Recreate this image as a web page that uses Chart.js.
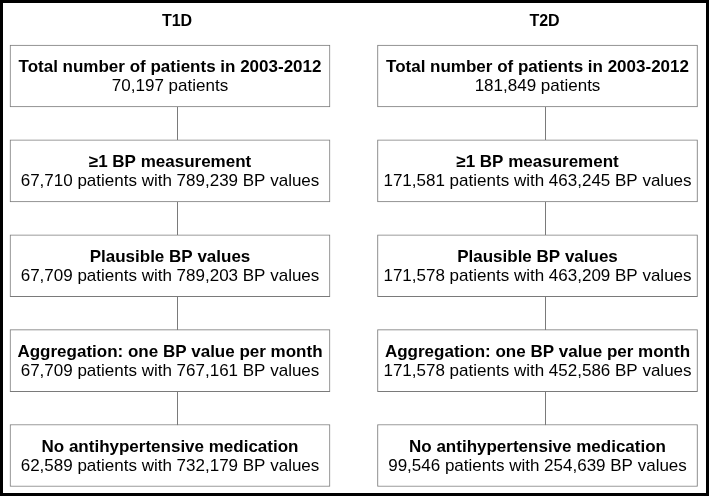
<!DOCTYPE html>
<html lang="en">
<head>
    <meta charset="UTF-8">
    <title>T1D / T2D patient flow</title>
    <script src="https://cdn.jsdelivr.net/npm/chart.js"></script>
    <style>
        body { margin: 0; background: #fff; }
        #wrap { width: 709px; height: 496px; position: relative; }
    </style>
</head>
<body>
    <div id="wrap"><canvas id="flowChart"></canvas></div>

    <script>
        // cohorts (columns) and selection steps (rows)
        const cohorts = ['T1D', 'T2D'];
        const steps = [
            'Total number of patients in 2003-2012',
            '\u22651 BP measurement',
            'Plausible BP values',
            'Aggregation: one BP value per month',
            'No antihypertensive medication'
        ];
        const t1dPatients = [70197, 67710, 67709, 67709, 62589];
        const t1dValues = [null, 789239, 789203, 767161, 732179];
        const t2dPatients = [181849, 171581, 171578, 171578, 99546];
        const t2dValues = [null, 463245, 463209, 452586, 254639];

        const patients = [t1dPatients, t2dPatients];
        const bpValues = [t1dValues, t2dValues];

        const BOX_HALF = 0.327;      // half box height, in step units
        const LINE_SHIFT = 7;        // connector / title offset from box centre (px)
        const BORDER_GREY = '#7a7a7a';
        const FONT = '"Liberation Sans", Arial, sans-serif';

        const fmt = n => n.toLocaleString('en-US');

        function detailLine(c, i) {
            if (bpValues[c][i] == null) return fmt(patients[c][i]) + ' patients';
            return fmt(patients[c][i]) + ' patients with ' + fmt(bpValues[c][i]) + ' BP values';
        }

        // one floating-bar dataset per step, one box per cohort
        const datasets = steps.map((s, i) => ({
            label: s,
            data: cohorts.map(() => [i - BOX_HALF, i + BOX_HALF]),
            backgroundColor: '#ffffff',
            borderColor: BORDER_GREY,
            borderWidth: 1,
            borderSkipped: false,
            barThickness: 320,
            grouped: false,
            clip: false
        }));

        const flowPlugin = {
            id: 'flow',
            beforeDraw(chart) {
                const ctx = chart.ctx;
                ctx.save();
                ctx.strokeStyle = '#000';
                ctx.lineWidth = 3;
                ctx.strokeRect(1.5, 1.5, chart.width - 3, chart.height - 3);
                ctx.restore();
            },
            beforeDatasetsDraw(chart) {
                const ctx = chart.ctx;
                const x = chart.scales.x, y = chart.scales.y;
                ctx.save();
                ctx.strokeStyle = BORDER_GREY;
                ctx.lineWidth = 1;
                cohorts.forEach((c, j) => {
                    const px = Math.round(x.getPixelForValue(j) + LINE_SHIFT) + 0.5;
                    ctx.beginPath();
                    ctx.moveTo(px, y.getPixelForValue(0));
                    ctx.lineTo(px, y.getPixelForValue(steps.length - 1));
                    ctx.stroke();
                });
                ctx.restore();
            },
            afterDatasetsDraw(chart) {
                const ctx = chart.ctx;
                const x = chart.scales.x, y = chart.scales.y;
                ctx.save();
                ctx.fillStyle = '#000';
                ctx.textAlign = 'center';
                ctx.textBaseline = 'alphabetic';

                // column titles
                ctx.font = 'bold 16px ' + FONT;
                cohorts.forEach((c, j) => {
                    ctx.fillText(c, x.getPixelForValue(j) + LINE_SHIFT, y.getPixelForValue(-0.53));
                });

                steps.forEach((s, i) => {
                    const meta = chart.getDatasetMeta(i);
                    meta.data.forEach((bar, j) => {
                        const cy = (bar.y + bar.base) / 2;
                        ctx.font = 'bold 17px ' + FONT;
                        ctx.fillText(s, bar.x, cy - 4);
                        ctx.font = '17px ' + FONT;
                        ctx.fillText(detailLine(j, i), bar.x, cy + 15);
                    });
                });
                ctx.restore();
            }
        };

        new Chart(document.getElementById('flowChart'), {
            type: 'bar',
            data: { labels: cohorts, datasets: datasets },
            options: {
                responsive: true,
                maintainAspectRatio: false,
                animation: false,
                events: [],
                layout: { padding: { left: 170, right: 171.5, top: 76, bottom: 40.5 } },
                plugins: { legend: { display: false }, tooltip: { enabled: false } },
                scales: {
                    x: { type: 'category', offset: false, display: false },
                    y: { type: 'linear', min: 0, max: steps.length - 1, reverse: true, display: false }
                }
            },
            plugins: [flowPlugin]
        });
    </script>
</body>
</html>
